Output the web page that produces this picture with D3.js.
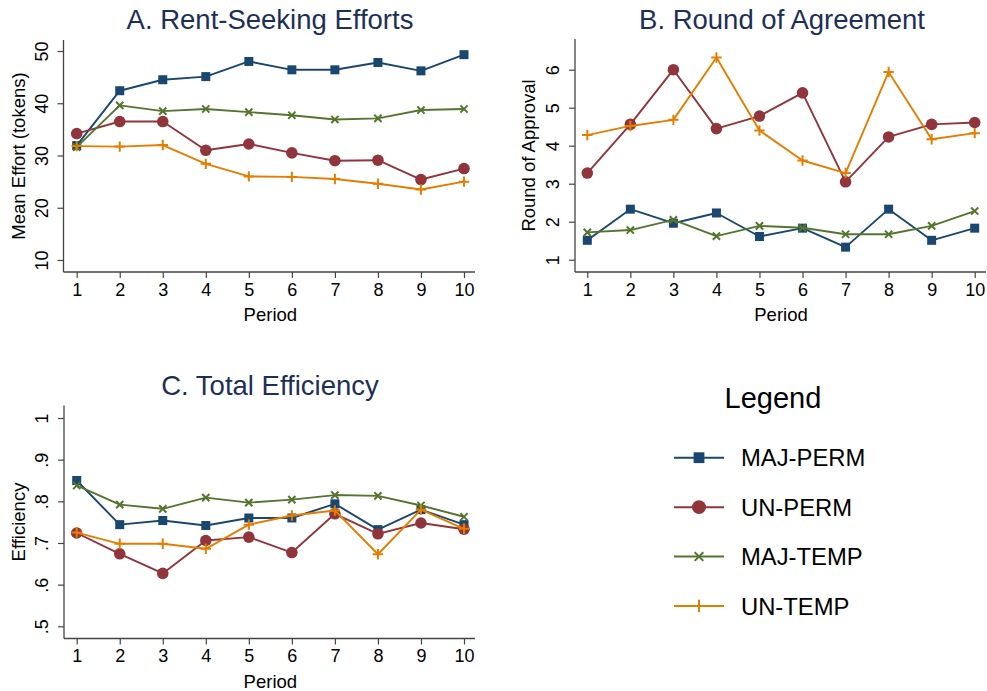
<!DOCTYPE html>
<html>
<head>
<meta charset="utf-8">
<script src="https://cdnjs.cloudflare.com/ajax/libs/d3/7.8.5/d3.min.js"></script>
<style>
  html, body { margin: 0; padding: 0; background: #fff; }
  svg { display: block; font-family: "Liberation Sans", Arial, Helvetica, sans-serif; }
</style>
</head>
<body>
<svg id="chart" width="987" height="691"></svg>
<script>
// ---------- DATA ----------
const periods = [1, 2, 3, 4, 5, 6, 7, 8, 9, 10];
const seriesNames = ["MAJ-PERM", "UN-PERM", "MAJ-TEMP", "UN-TEMP"];

// Panel A: Mean Effort (tokens)
const effortMajPerm = [31.9, 42.4, 44.5, 45.1, 48.0, 46.4, 46.4, 47.8, 46.2, 49.3];
const effortUnPerm  = [34.2, 36.5, 36.5, 31.0, 32.2, 30.5, 29.0, 29.1, 25.4, 27.5];
const effortMajTemp = [31.6, 39.6, 38.5, 38.9, 38.3, 37.7, 36.9, 37.1, 38.7, 38.9];
const effortUnTemp  = [31.8, 31.7, 32.0, 28.4, 26.0, 25.9, 25.5, 24.6, 23.5, 25.0];

// Panel B: Round of Approval
const roundMajPerm = [1.51, 2.33, 1.96, 2.23, 1.61, 1.83, 1.33, 2.33, 1.51, 1.83];
const roundUnPerm  = [3.28, 4.56, 6.00, 4.45, 4.78, 5.39, 3.05, 4.23, 4.56, 4.61];
const roundMajTemp = [1.72, 1.78, 2.05, 1.62, 1.89, 1.84, 1.67, 1.67, 1.89, 2.28];
const roundUnTemp  = [4.28, 4.52, 4.68, 6.32, 4.40, 3.61, 3.28, 5.94, 4.17, 4.33];

// Panel C: Efficiency
const effMajPerm = [0.850, 0.744, 0.754, 0.742, 0.760, 0.760, 0.794, 0.732, 0.780, 0.744];
const effUnPerm  = [0.724, 0.674, 0.627, 0.706, 0.714, 0.677, 0.770, 0.722, 0.748, 0.733];
const effMajTemp = [0.838, 0.792, 0.782, 0.809, 0.797, 0.804, 0.815, 0.813, 0.790, 0.763];
const effUnTemp  = [0.725, 0.698, 0.698, 0.686, 0.744, 0.766, 0.778, 0.673, 0.780, 0.734];

// Tick values / labels
const ticksA = [10, 20, 30, 40, 50];
const ticksB = [1, 2, 3, 4, 5, 6];
const ticksC = [0.5, 0.6, 0.7, 0.8, 0.9, 1];
const ticksCLabels = [".5", ".6", ".7", ".8", ".9", "1"];

// ---------- STYLE ----------
const colors = { "MAJ-PERM": "#1a476f", "UN-PERM": "#90353b", "MAJ-TEMP": "#55752f", "UN-TEMP": "#e37e00" };
const shapes = { "MAJ-PERM": "square", "UN-PERM": "circle", "MAJ-TEMP": "x", "UN-TEMP": "plus" };
const titleColor = "#1e2f55";
const axisColor = "#444";

const svg = d3.select("#chart");

function drawMarker(g, shape, x, y, color, scale) {
  scale = scale || 1;
  if (shape === "square") {
    const s = 9 * scale;
    g.append("rect").attr("x", x - s / 2).attr("y", y - s / 2).attr("width", s).attr("height", s).attr("fill", color);
  } else if (shape === "circle") {
    g.append("circle").attr("cx", x).attr("cy", y).attr("r", 5.8 * scale).attr("fill", color);
  } else if (shape === "x") {
    const a = 3.6 * scale;
    g.append("path").attr("d", `M${x - a},${y - a}L${x + a},${y + a}M${x - a},${y + a}L${x + a},${y - a}`)
      .attr("stroke", color).attr("stroke-width", 2).attr("fill", "none");
  } else if (shape === "plus") {
    const a = 5.2 * scale;
    g.append("path").attr("d", `M${x - a},${y}L${x + a},${y}M${x},${y - a}L${x},${y + a}`)
      .attr("stroke", color).attr("stroke-width", 2).attr("fill", "none");
  }
}

function panel(opts) {
  const g = svg.append("g");
  const x = d3.scaleLinear().domain([1, 10]).range(opts.xRange);
  const y = d3.scaleLinear().domain(opts.yDomain).range(opts.yRange);

  // title
  g.append("text").attr("x", opts.titleX).attr("y", opts.titleY)
    .attr("text-anchor", "middle").attr("font-size", 27.5).attr("fill", titleColor)
    .text(opts.title);

  // x axis
  const xAxis = d3.axisBottom(x).tickValues(periods).tickSize(6).tickPadding(5).tickFormat(d3.format("d"));
  const gx = g.append("g").attr("transform", `translate(0,${opts.bottom})`).call(xAxis);
  gx.select(".domain").remove();
  gx.append("line").attr("x1", opts.axisX).attr("x2", opts.axisRight).attr("y1", 0).attr("y2", 0)
    .attr("stroke", axisColor).attr("stroke-width", 1.3);
  gx.selectAll(".tick line").attr("stroke", axisColor).attr("stroke-width", 1.2);
  gx.selectAll(".tick text").attr("font-size", 18).attr("fill", "#000")
    .attr("font-family", "Liberation Sans, Arial, sans-serif").attr("dy", "0.72em");

  g.append("text").attr("x", (opts.xRange[0] + opts.xRange[1]) / 2).attr("y", opts.bottom + 49)
    .attr("text-anchor", "middle").attr("font-size", 18.5).attr("fill", "#000").text("Period");

  // y axis
  const yAxis = d3.axisLeft(y).tickValues(opts.yTicks).tickSize(6).tickPadding(0)
    .tickFormat((d, i) => opts.yLabels ? opts.yLabels[i] : d);
  const gy = g.append("g").attr("transform", `translate(${opts.axisX},0)`).call(yAxis);
  gy.select(".domain").remove();
  gy.append("line").attr("x1", 0).attr("x2", 0).attr("y1", opts.top).attr("y2", opts.bottom)
    .attr("stroke", axisColor).attr("stroke-width", 1.3);
  gy.selectAll(".tick line").attr("stroke", axisColor).attr("stroke-width", 1.2);
  gy.selectAll(".tick text")
    .attr("font-size", 18).attr("fill", "#000")
    .attr("font-family", "Liberation Sans, Arial, sans-serif")
    .attr("x", null)
    .attr("text-anchor", "middle")
    .attr("transform", `translate(-16,0) rotate(-90)`)
    .attr("dy", "0em");

  g.append("text")
    .attr("transform", `translate(${opts.yTitleX},${(opts.top + opts.bottom) / 2}) rotate(-90)`)
    .attr("text-anchor", "middle").attr("font-size", 18.5).attr("fill", "#000")
    .text(opts.yTitle);

  // series
  const line = d3.line().x((d, i) => x(periods[i])).y(d => y(d));
  opts.series.forEach((vals, si) => {
    const name = seriesNames[si];
    g.append("path").datum(vals).attr("d", line).attr("fill", "none")
      .attr("stroke", colors[name]).attr("stroke-width", 1.9).attr("stroke-linejoin", "round");
    const mg = g.append("g");
    vals.forEach((v, i) => drawMarker(mg, shapes[name], x(periods[i]), y(v), colors[name]));
  });
}

panel({
  title: "A. Rent-Seeking Efforts", titleX: 270, titleY: 29,
  xRange: [76.7, 464], axisX: 63.5, axisRight: 475, top: 40, bottom: 272,
  yDomain: [10, 50], yRange: [260, 51], yTicks: ticksA,
  yTitle: "Mean Effort (tokens)", yTitleX: 25,
  series: [effortMajPerm, effortUnPerm, effortMajTemp, effortUnTemp]
});

panel({
  title: "B. Round of Agreement", titleX: 782, titleY: 29,
  xRange: [587.3, 974.7], axisX: 575, axisRight: 986, top: 39, bottom: 272,
  yDomain: [1, 6], yRange: [259.7, 69.7], yTicks: ticksB,
  yTitle: "Round of Approval", yTitleX: 535,
  series: [roundMajPerm, roundUnPerm, roundMajTemp, roundUnTemp]
});

panel({
  title: "C. Total Efficiency", titleX: 270, titleY: 395,
  xRange: [76.7, 464], axisX: 64, axisRight: 475, top: 405.5, bottom: 638.5,
  yDomain: [0.5, 1], yRange: [626.3, 418], yTicks: ticksC, yLabels: ticksCLabels,
  yTitle: "Efficiency", yTitleX: 25,
  series: [effMajPerm, effUnPerm, effMajTemp, effUnTemp]
});

// ---------- LEGEND ----------
const lg = svg.append("g");
lg.append("text").attr("x", 773).attr("y", 408).attr("text-anchor", "middle")
  .attr("font-size", 29).attr("fill", "#000").text("Legend");
const legendY = d3.scalePoint().domain(seriesNames).range([457.7, 606]);
seriesNames.forEach(name => {
  const yy = legendY(name);
  lg.append("line").attr("x1", 674).attr("x2", 724).attr("y1", yy).attr("y2", yy)
    .attr("stroke", colors[name]).attr("stroke-width", 2);
  drawMarker(lg, shapes[name], 699, yy, colors[name], 1.2);
  lg.append("text").attr("x", 741).attr("y", yy + 8.5).attr("font-size", 23.8).attr("fill", "#000").text(name);
});
</script>
</body>
</html>
